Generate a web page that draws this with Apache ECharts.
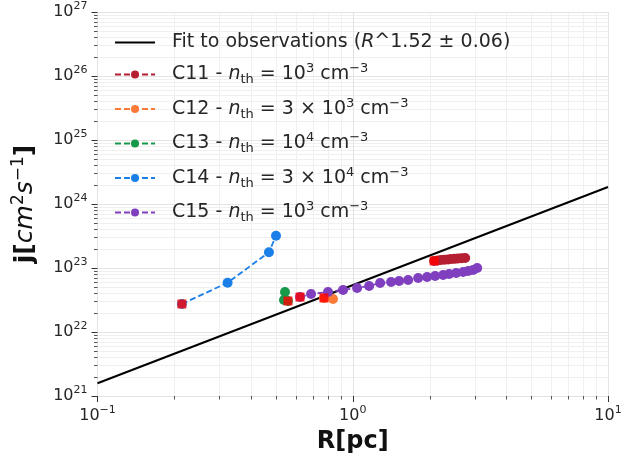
<!DOCTYPE html>
<html><head><meta charset="utf-8">
<script src="https://cdn.jsdelivr.net/npm/echarts@6/dist/echarts.min.js"></script>
<style>html,body{margin:0;padding:0;background:#fff}#c{width:623px;height:459px}</style>
</head><body><div id="c"></div>
<script>
// ---- data ----
const fitR = [0.1, 10];
const fitJ = [1.58e21, 1.84e24];
const c11R = [2.084, 2.150, 2.219, 2.291, 2.364, 2.429, 2.507, 2.588, 2.671, 2.757];
const c11J = [1.29e23, 1.31e23, 1.33e23, 1.35e23, 1.36e23, 1.38e23, 1.39e23, 1.41e23, 1.42e23, 1.43e23];
const c12R = [0.7717, 0.8369];
const c12J = [3.40e22, 3.28e22];
const c13R = [0.5574, 0.5378, 0.5427];
const c13J = [3.05e22, 3.16e22, 4.22e22];
const c14R = [0.2141, 0.3234, 0.4695, 0.5004];
const c14J = [2.74e22, 5.89e22, 1.76e23, 3.20e23];
const c15R = [0.6214, 0.6864, 0.8000, 0.9161, 1.040, 1.159, 1.280, 1.413, 1.519, 1.648, 1.804, 1.956, 2.102, 2.260, 2.386, 2.542, 2.707, 2.833, 2.963, 3.073];
const c15J = [3.52e22, 3.92e22, 4.22e22, 4.53e22, 4.87e22, 5.23e22, 5.83e22, 6.04e22, 6.26e22, 6.49e22, 6.98e22, 7.24e22, 7.50e22, 7.78e22, 8.06e22, 8.36e22, 8.66e22, 8.98e22, 9.31e22, 1.00e23];
const seriesNames = ['Fit', 'C11', 'C12', 'C13', 'C14', 'C15'];
const xMin = 0.1, xMax = 10, yMin = 1e21, yMax = 1e27;

const FONT = 'DejaVu Sans';
const colors = { C11: '#b51f31', C12: '#fb7a37', C13: '#17994a', C14: '#1b7fe8', C15: '#7f3fbf' };
const zip = (a, b) => a.map((v, i) => [v, b[i]]);

const legendText = {
  Fit: '{n|Fit to observations (}{i|R}{n|^1.52 ± 0.06)}',
  C11: '{n|C11 - }{i|n}{sub|th}{n| = 10}{sup|3}{n| cm}{sup|−3}',
  C12: '{n|C12 - }{i|n}{sub|th}{n| = 3 × 10}{sup|3}{n| cm}{sup|−3}',
  C13: '{n|C13 - }{i|n}{sub|th}{n| = 10}{sup|4}{n| cm}{sup|−3}',
  C14: '{n|C14 - }{i|n}{sub|th}{n| = 3 × 10}{sup|4}{n| cm}{sup|−3}',
  C15: '{n|C15 - }{i|n}{sub|th}{n| = 10}{sup|3}{n| cm}{sup|−3}'
};

function expLabel(v) {
  const e = Math.round(Math.log10(v));
  return '{b|10}{s|' + (e < 0 ? '−' + (-e) : e) + '}';
}
const labelRich = {
  b: { fontFamily: FONT, fontSize: 16, color: '#262626', lineHeight: 22 },
  s: { fontFamily: FONT, fontSize: 11, color: '#262626', lineHeight: 11, verticalAlign: 'top' }
};

function dashed(name, R, J) {
  return {
    name: name, type: 'line', data: zip(R, J),
    symbol: 'circle', symbolSize: 10, showSymbol: true,
    itemStyle: { color: colors[name] },
    lineStyle: { color: colors[name], width: 1.8, type: [6, 3] },
    z: 3
  };
}

const chart = echarts.init(document.getElementById('c'), null, { renderer: 'canvas' });
const starts = [[c11R[0], c11J[0]], [c12R[0], c12J[0]], [c13R[0], c13J[0]], [c14R[0], c14J[0]], [c15R[0], c15J[0]]];

chart.setOption({
  animation: false,
  backgroundColor: '#fff',
  grid: { left: 97.5, right: 15, top: 12, bottom: 63, containLabel: false, outerBoundsMode: 'none' },
  xAxis: {
    type: 'log', logBase: 10, min: xMin, max: xMax, splitNumber: 2,
    axisLine: { show: false },
    axisTick: { show: true, length: 6, lineStyle: { color: '#333', width: 1 } },
    axisLabel: { margin: 9, formatter: expLabel, rich: labelRich },
    splitLine: { show: true, lineStyle: { color: '#e3e3e3', width: 1 } },
    name: 'R[pc]', nameLocation: 'middle', nameGap: 34,
    nameTextStyle: { fontFamily: FONT, fontSize: 24, fontWeight: 'bold', color: '#111' }
  },
  yAxis: {
    type: 'log', logBase: 10, min: yMin, max: yMax, splitNumber: 6,
    axisLine: { show: false },
    axisTick: { show: true, length: 6, lineStyle: { color: '#333', width: 1 } },
    axisLabel: { margin: 10, formatter: expLabel, rich: labelRich },
    splitLine: { show: true, lineStyle: { color: '#e3e3e3', width: 1 } },
    name: '{bj|j[}{it|cm}{sup|2}{it|s}{sup|−1}{bj|]}', nameLocation: 'middle', nameGap: 57, nameRotate: 90,
    nameTextStyle: {
      rich: {
        bj: { fontFamily: FONT, fontSize: 25, fontWeight: 'bold', color: '#111', lineHeight: 30 },
        it: { fontFamily: FONT, fontSize: 25, fontStyle: 'italic', color: '#111', lineHeight: 30 },
        sup: { fontFamily: FONT, fontSize: 17, color: '#111', lineHeight: 17, verticalAlign: 'top' }
      }
    }
  },
  legend: {
    orient: 'vertical', left: 109, top: 28, itemGap: 10.5, itemWidth: 40, itemHeight: 10,
    data: [{ name: 'Fit', itemStyle: { opacity: 0 } }, 'C11', 'C12', 'C13', 'C14', 'C15'],
    formatter: n => legendText[n],
    textStyle: {
      padding: [0, 0, 0, 12],
      rich: {
        n: { fontFamily: FONT, fontSize: 19, color: '#262626', lineHeight: 24 },
        i: { fontFamily: FONT, fontSize: 19, fontStyle: 'italic', color: '#262626', lineHeight: 24 },
        sub: { fontFamily: FONT, fontSize: 13, color: '#262626', lineHeight: 13, verticalAlign: 'bottom' },
        sup: { fontFamily: FONT, fontSize: 13, color: '#262626', lineHeight: 13, verticalAlign: 'top' }
      }
    }
  },
  series: [
    { name: 'Fit', type: 'line', data: zip(fitR, fitJ), symbol: 'none', showSymbol: false,
      lineStyle: { color: '#000', width: 2 }, itemStyle: { color: '#000' }, z: 2 },
    dashed('C11', c11R, c11J),
    dashed('C12', c12R, c12J),
    dashed('C13', c13R, c13J),
    dashed('C14', c14R, c14J),
    dashed('C15', c15R, c15J),
    { name: 'start', type: 'scatter', data: starts, symbol: 'rect', symbolSize: 9,
      itemStyle: { color: '#ff0000' }, z: 5 }
  ]
});

// minor grid lines and minor ticks (matplotlib style 2..9 per decade)
const g = [];
const minorX = [], minorY = [];
for (let d = -1; d < 1; d++) for (let k = 2; k <= 9; k++) minorX.push(k * Math.pow(10, d));
for (let d = 21; d < 27; d++) for (let k = 2; k <= 9; k++) minorY.push(k * Math.pow(10, d));
const p0 = chart.convertToPixel({ gridIndex: 0 }, [xMin, yMin]);
const p1 = chart.convertToPixel({ gridIndex: 0 }, [xMax, yMax]);
minorX.forEach(v => {
  const x = Math.round(chart.convertToPixel({ xAxisIndex: 0 }, v)) + 0.5;
  g.push({ type: 'line', silent: true, z: -1, shape: { x1: x, y1: p1[1], x2: x, y2: p0[1] }, style: { stroke: '#f0f0f0', lineWidth: 1 } });
  g.push({ type: 'line', silent: true, z: 1, shape: { x1: x, y1: p0[1], x2: x, y2: p0[1] + 3.5 }, style: { stroke: '#555', lineWidth: 1 } });
});
minorY.forEach(v => {
  const y = Math.round(chart.convertToPixel({ yAxisIndex: 0 }, v)) + 0.5;
  g.push({ type: 'line', silent: true, z: -1, shape: { x1: p0[0], y1: y, x2: p1[0], y2: y }, style: { stroke: '#f0f0f0', lineWidth: 1 } });
  g.push({ type: 'line', silent: true, z: 1, shape: { x1: p0[0] - 3.5, y1: y, x2: p0[0], y2: y }, style: { stroke: '#555', lineWidth: 1 } });
});
chart.setOption({ graphic: g });
</script>
</body></html>
